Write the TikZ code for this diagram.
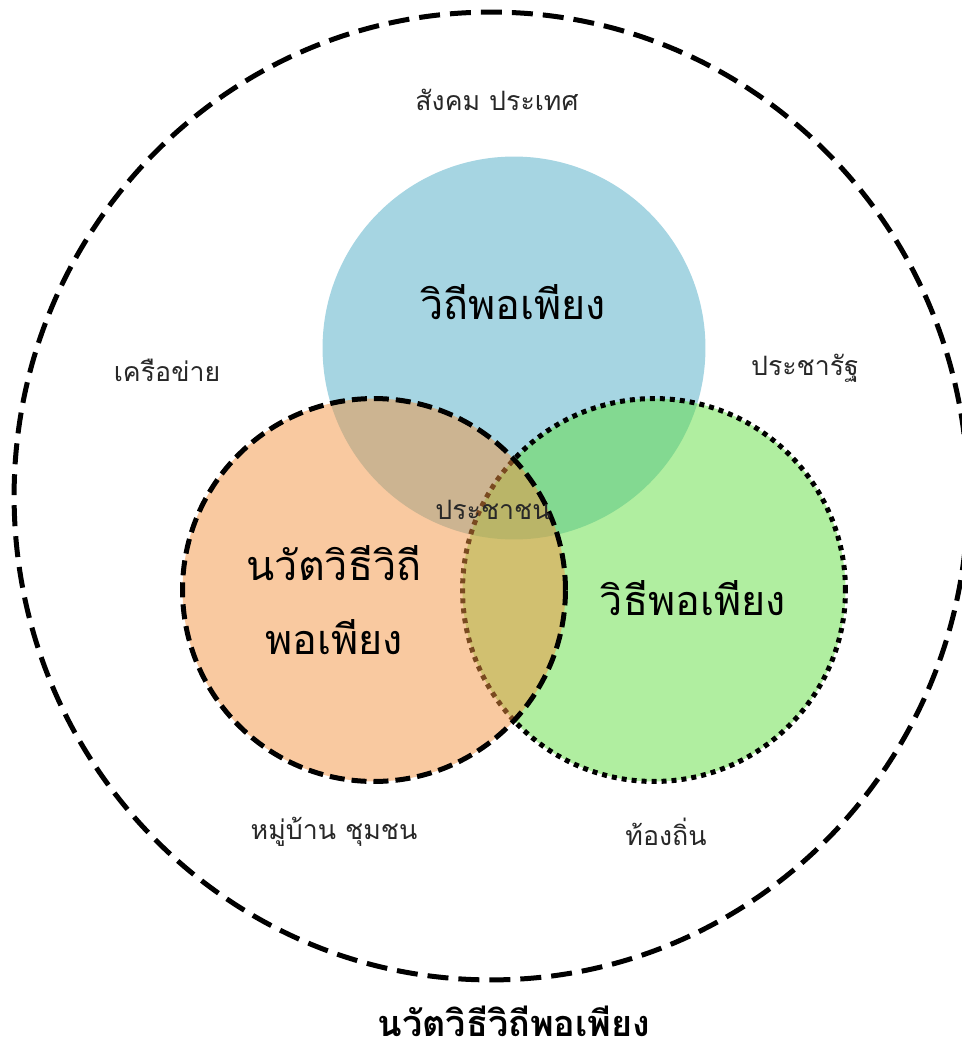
\documentclass[tikz,border=0pt]{standalone}
\usepackage{fontspec}
\setmainfont[Script=Thai]{Loma}
\usepackage{xcolor}
\usepackage{tikz}
\usetikzlibrary{positioning}

\definecolor{vennblue}{RGB}{77,171,197}
\definecolor{venngreen}{RGB}{97,221,65}
\definecolor{vennorange}{RGB}{243,147,65}
\definecolor{labelgray}{RGB}{40,40,40}

\begin{document}
\begin{tikzpicture}[
x=0.02cm, y=-0.02cm,
venn/.style={circle, minimum size=7.66cm, inner sep=0pt, fill opacity=0.5, line width=0.1cm},
small/.style={font=\fontsize{15.2}{19}\selectfont, text=labelgray},
big/.style={font=\fontsize{23.5}{42}\selectfont, align=center, text=black}
]
\useasboundingbox (0,0) rectangle (961,1051);
\draw[line width=0.1cm, dash pattern=on 0.42cm off 0.2cm] (491,496) ellipse (9.54cm and 9.68cm);
\node[venn, fill=vennblue] (blue) at (514,348) {};
\node[venn, fill=venngreen, draw, dash pattern=on 0.1cm off 0.1cm] (green) at (654,590) {};
\node[venn, fill=vennorange, draw, dash pattern=on 0.3cm off 0.14cm] (orange) at (374,590) {};
\node[big] (topname) at (513,302) {วิถีพอเพียง};
\node[big] (leftname) at (334,600) {นวัตวิธีวิถี\\พอเพียง};
\node[big] (rightname) at (693,598) {วิธีพอเพียง};
\node[small] (people) at (493,510) {ประชาชน};
\node[small] (society) at (497,100) {สังคม ประเทศ};
\node[small] (network) at (167,370) {เครือข่าย};
\node[small] (state) at (805,368) {ประชารัฐ};
\node[small] (village) at (334,832) {หมู่บ้าน ชุมชน};
\node[small] (local) at (666,832) {ท้องถิ่น};
\node[big, font=\fontsize{20.5}{30}\selectfont\bfseries] (title) at (514,1021) {นวัตวิธีวิถีพอเพียง};
\end{tikzpicture}
\end{document}
